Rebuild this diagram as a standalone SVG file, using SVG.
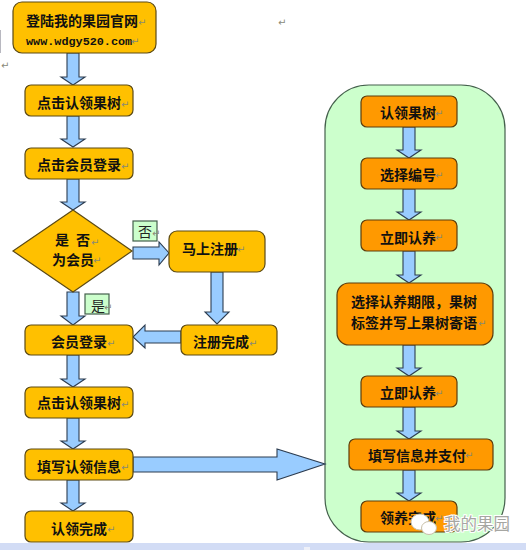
<svg xmlns="http://www.w3.org/2000/svg" width="526" height="550" viewBox="0 0 526 550">
<style>
text{font-family:"Noto Sans CJK SC","Liberation Sans",sans-serif}
.y{fill:#ffc000;stroke:#5c4a14;stroke-width:1.2}
.o{fill:#ff9900;stroke:#5c3c0c;stroke-width:1.2}
.t{font-size:14px;font-weight:700;fill:#111}
.m{font-family:"DejaVu Sans",sans-serif;font-size:10px;fill:#8a8a78}
.u{font-family:"Liberation Mono",monospace;font-size:11.8px;font-weight:700;fill:#111}
.g{fill:#ccffcc;stroke:#44604c;stroke-width:1.2}
.l{font-size:14px;fill:#222}
#connectors polygon{fill:#99ccff;stroke:#2c3c50;stroke-width:1.1}
</style>
<rect width="526" height="550" fill="#fff"/>
<rect y="543" width="526" height="7" fill="#d2dcf5"/>
<rect x="0" y="30" width="1" height="23" fill="#b8b8c0"/>
<text class="m" x="1" y="69">↵</text>
<text class="m" x="278" y="26">↵</text>
<rect x="304" y="547" width="6" height="3" fill="#eef0f8"/>
<g id="panel"><rect x="325" y="85" width="180" height="457" rx="44" ry="44" class="g"/></g>
<g id="connectors">
<polygon points="67,53 79,53 79,77 85,77 73,85 61,77 67,77"/>
<polygon points="67,116 79,116 79,139 85,139 73,147 61,139 67,139"/>
<polygon points="67,179 79,179 79,202 85,202 73,210 61,202 67,202"/>
<polygon points="67,292 79,292 79,316 85,316 73,325 61,316 67,316"/>
<polygon points="67,355 79,355 79,379 85,379 73,387 61,379 67,379"/>
<polygon points="67,418 79,418 79,441 85,441 73,449 61,441 67,441"/>
<polygon points="67,480 79,480 79,503 85,503 73,511 61,503 67,503"/>
<polygon points="133,247 159,247 159,242 169,253 159,265 159,259 133,259"/>
<polygon points="211,272 223,272 223,312 229,312 217,324 205,312 211,312"/>
<polygon points="181,331 145,331 145,325 133,337 145,348 145,343 181,343"/>
<polygon points="133,457 277,457 277,449 325,464 277,480 277,472 133,472"/>
<polygon points="403,127 415,127 415,150 421,150 409,158 397,150 403,150"/>
<polygon points="403,189 415,189 415,212 421,212 409,220 397,212 403,212"/>
<polygon points="403,251 415,251 415,275 421,275 409,283 397,275 403,275"/>
<polygon points="403,345 415,345 415,368 421,368 409,376 397,368 403,368"/>
<polygon points="403,407 415,407 415,431 421,431 409,439 397,431 403,431"/>
<polygon points="403,470 415,470 415,493 421,493 409,501 397,493 403,493"/>
</g>
<g id="n1"><rect x="13" y="2" width="143" height="51" rx="9" class="y"/><text class="t" x="26" y="26">登陆我的果园官网</text><text class="u" x="26" y="45">www.wdgy520.com</text><text class="m" x="138" y="26">↵</text><text class="m" x="131" y="45">↵</text></g>
<g id="n2"><rect x="25" y="85" width="108" height="31" rx="6" class="y"/><text class="t" x="37" y="108">点击认领果树</text><text class="m" x="121" y="108">↵</text></g>
<g id="n3"><rect x="25" y="148" width="108" height="31" rx="6" class="y"/><text class="t" x="37" y="170">点击会员登录</text><text class="m" x="121" y="170">↵</text></g>
<g id="n4"><polygon points="13,251 73,210 132,251 73,292" class="y"/><text class="t" x="55" y="245">是</text><text class="t" x="76" y="245">否</text><text class="t" x="52" y="265">为会员</text><text class="m" x="91" y="246">↵</text><text class="m" x="93" y="264">↵</text></g>
<g id="n5"><rect x="133" y="221" width="24" height="20" class="g"/><text class="l" x="138" y="237">否</text><text class="m" x="152" y="237">↵</text></g>
<g id="n6"><rect x="85" y="294" width="24" height="20" class="g"/><text class="l" x="91" y="311">是</text><text class="m" x="104" y="311">↵</text></g>
<g id="n7"><rect x="169" y="231" width="96" height="41" rx="8" class="y"/><text class="t" x="182" y="254">马上注册</text><text class="m" x="237" y="253">↵</text></g>
<g id="n8"><rect x="181" y="325" width="96" height="30" rx="6" class="y"/><text class="t" x="193" y="347">注册完成</text><text class="m" x="249" y="347">↵</text></g>
<g id="n9"><rect x="25" y="325" width="108" height="30" rx="6" class="y"/><text class="t" x="51" y="347">会员登录</text><text class="m" x="107" y="347">↵</text></g>
<g id="n10"><rect x="25" y="387" width="108" height="31" rx="6" class="y"/><text class="t" x="37" y="408">点击认领果树</text><text class="m" x="121" y="408">↵</text></g>
<g id="n11"><rect x="25" y="449" width="108" height="31" rx="6" class="y"/><text class="t" x="37" y="472">填写认领信息</text><text class="m" x="121" y="471">↵</text></g>
<g id="n12"><rect x="25" y="511" width="108" height="31" rx="6" class="y"/><text class="t" x="51" y="534">认领完成</text><text class="m" x="107" y="533">↵</text></g>
<g id="r1"><rect x="361" y="96" width="96" height="31" rx="6" class="o"/><text class="t" x="380" y="118">认领果树</text><text class="m" x="435" y="117">↵</text></g>
<g id="r2"><rect x="361" y="158" width="96" height="31" rx="6" class="o"/><text class="t" x="380" y="180">选择编号</text><text class="m" x="435" y="179">↵</text></g>
<g id="r3"><rect x="361" y="220" width="96" height="31" rx="6" class="o"/><text class="t" x="380" y="243">立即认养</text><text class="m" x="435" y="241">↵</text></g>
<g id="r4"><rect x="337" y="283" width="156" height="62" rx="12" class="o"/><text class="t" x="351" y="307">选择认养期限，果树</text><text class="t" x="351" y="328">标签并写上果树寄语</text><text class="m" x="478" y="327">↵</text></g>
<g id="r5"><rect x="361" y="376" width="96" height="31" rx="6" class="o"/><text class="t" x="380" y="398">立即认养</text><text class="m" x="435" y="397">↵</text></g>
<g id="r6"><rect x="349" y="439" width="144" height="31" rx="6" class="o"/><text class="t" x="368" y="461">填写信息并支付</text><text class="m" x="465" y="459">↵</text></g>
<g id="r7"><rect x="361" y="501" width="96" height="31" rx="6" class="o"/><text class="t" x="380" y="523">领养完成</text><text class="m" x="435" y="522">↵</text></g>
<g id="watermark">
<ellipse cx="420" cy="522" rx="9" ry="8" fill="#fff" stroke="#c8c0a8" stroke-width="1"/>
<ellipse cx="429" cy="528" rx="7.5" ry="6.5" fill="#fff" stroke="#c8c0a8" stroke-width="1"/>
<text x="444" y="530" font-size="16.5" fill="#a6a6a2" stroke="#fff" stroke-width="2" paint-order="stroke">我的果园</text>
</g>
</svg>
